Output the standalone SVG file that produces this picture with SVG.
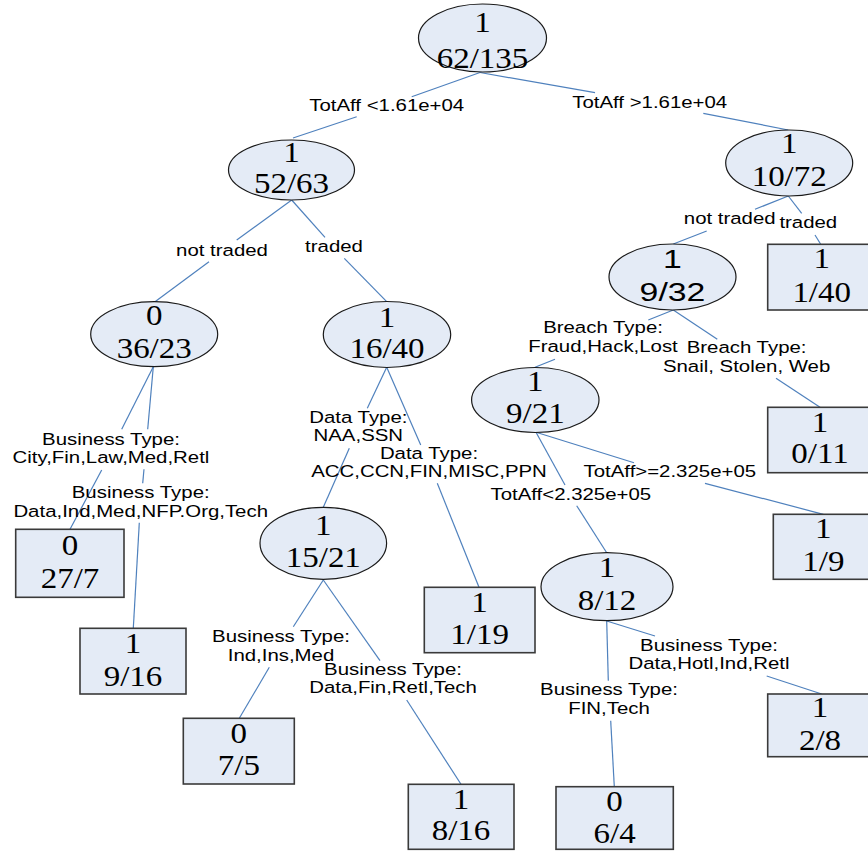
<svg xmlns="http://www.w3.org/2000/svg" width="868" height="853" viewBox="0 0 868 853">
<style>
.ell{fill:#e4ebf6;stroke:#1a1a1a;stroke-width:1.2}
.box{fill:#e4ebf6;stroke:#3a3a3a;stroke-width:1.6}
.num{font-family:"Liberation Serif","Times New Roman",serif;font-size:30px;text-anchor:middle;fill:#000}
.snum{font-family:"Liberation Sans",Arial,sans-serif;font-size:26px;text-anchor:middle;fill:#000}
.lbl{font-family:"Liberation Sans",Arial,sans-serif;font-size:17px;text-anchor:middle;fill:#000}
.edge line{stroke:#4f81bd;stroke-width:1.2}
</style>
<rect width="868" height="853" fill="#fff"/>
<g id="connectors" class="edge">
<line x1="480" y1="72.5" x2="411.7" y2="96.7"/><line x1="356.7" y1="116.7" x2="293" y2="138"/>
<line x1="480" y1="72.5" x2="595" y2="92.7"/><line x1="703.3" y1="113.3" x2="788.3" y2="130"/>
<line x1="291.7" y1="200" x2="236.7" y2="240"/><line x1="209" y1="261.7" x2="155" y2="301.7"/>
<line x1="291.7" y1="200" x2="325" y2="237.3"/><line x1="344.3" y1="258.3" x2="386.7" y2="301.7"/>
<line x1="788.3" y1="196" x2="755" y2="209.3"/><line x1="706.7" y1="231" x2="673.3" y2="244"/>
<line x1="788.3" y1="196" x2="801.7" y2="213.3"/><line x1="815" y1="235" x2="820.7" y2="244.3"/>
<line x1="153.3" y1="366.7" x2="121.7" y2="429.3"/><line x1="101.7" y1="470" x2="70" y2="529.3"/>
<line x1="153.3" y1="366.7" x2="147.7" y2="429.3"/><line x1="144" y1="469.3" x2="142.7" y2="483.3"/><line x1="139.3" y1="522.7" x2="133.3" y2="628.3"/>
<line x1="386.7" y1="367.3" x2="367.3" y2="408.3"/><line x1="349.3" y1="448.3" x2="323.3" y2="507.3"/>
<line x1="386.7" y1="367.3" x2="420.7" y2="445"/><line x1="437.3" y1="483.3" x2="479" y2="587.3"/>
<line x1="323.3" y1="580" x2="293.3" y2="626.7"/><line x1="269.3" y1="667.3" x2="239.3" y2="718.3"/>
<line x1="323.3" y1="580" x2="380" y2="660.7"/><line x1="406.7" y1="700" x2="461" y2="784.3"/>
<line x1="673.3" y1="310" x2="648.3" y2="320"/><line x1="555" y1="359.3" x2="535" y2="367.3"/>
<line x1="673.3" y1="310" x2="717.3" y2="339.3"/><line x1="776" y1="378.3" x2="820" y2="407.3"/>
<line x1="536" y1="432.3" x2="634" y2="462.7"/><line x1="705" y1="483.3" x2="823.3" y2="514.3"/>
<line x1="536" y1="432.3" x2="565" y2="485"/><line x1="576.7" y1="505.7" x2="606.7" y2="552.7"/>
<line x1="606.7" y1="621" x2="608.3" y2="680.7"/><line x1="610.7" y1="720.7" x2="614.3" y2="786.7"/>
<line x1="606.7" y1="621" x2="655" y2="636"/><line x1="766.7" y1="676" x2="821.7" y2="694"/>
</g>
<g id="edge-labels">
<text class="lbl" transform="translate(386.7,111) scale(1.2,1)">TotAff &lt;1.61e+04</text>
<text class="lbl" transform="translate(649.7,107.7) scale(1.2,1)">TotAff &gt;1.61e+04</text>
<text class="lbl" transform="translate(222,256) scale(1.2,1)">not traded</text>
<text class="lbl" transform="translate(334,251.7) scale(1.2,1)">traded</text>
<text class="lbl" transform="translate(729.7,224.3) scale(1.2,1)">not traded</text>
<text class="lbl" transform="translate(808.3,227.7) scale(1.2,1)">traded</text>
<text class="lbl" transform="translate(111,445) scale(1.2,1)"><tspan x="0">Business Type:</tspan><tspan x="0" dy="18.3">City,Fin,Law,Med,Retl</tspan></text>
<text class="lbl" transform="translate(140.7,498.3) scale(1.2,1)"><tspan x="0">Business Type:</tspan><tspan x="0" dy="18.4">Data,Ind,Med,NFP.Org,Tech</tspan></text>
<text class="lbl" transform="translate(358.3,422.7) scale(1.2,1)"><tspan x="0">Data Type:</tspan><tspan x="0" dy="18.3">NAA,SSN</tspan></text>
<text class="lbl" transform="translate(429,459) scale(1.2,1)"><tspan x="0">Data Type:</tspan><tspan x="0" dy="18">ACC,CCN,FIN,MISC,PPN</tspan></text>
<text class="lbl" transform="translate(603,333.3) scale(1.2,1)"><tspan x="0">Breach Type:</tspan><tspan x="0" dy="19">Fraud,Hack,Lost</tspan></text>
<text class="lbl" transform="translate(746.6,353.3) scale(1.2,1)"><tspan x="0">Breach Type:</tspan><tspan x="0" dy="19">Snail, Stolen, Web</tspan></text>
<text class="lbl" transform="translate(669.8,477.3) scale(1.2,1)">TotAff&gt;=2.325e+05</text>
<text class="lbl" transform="translate(570.8,500) scale(1.2,1)">TotAff&lt;2.325e+05</text>
<text class="lbl" transform="translate(281,641.7) scale(1.2,1)"><tspan x="0">Business Type:</tspan><tspan x="0" dy="19">Ind,Ins,Med</tspan></text>
<text class="lbl" transform="translate(393,675) scale(1.2,1)"><tspan x="0">Business Type:</tspan><tspan x="0" dy="18.3">Data,Fin,Retl,Tech</tspan></text>
<text class="lbl" transform="translate(709,650.7) scale(1.2,1)"><tspan x="0">Business Type:</tspan><tspan x="0" dy="18.6">Data,Hotl,Ind,Retl</tspan></text>
<text class="lbl" transform="translate(609,695) scale(1.2,1)"><tspan x="0">Business Type:</tspan><tspan x="0" dy="19">FIN,Tech</tspan></text>
</g>
<g id="n-root"><ellipse class="ell" cx="482.5" cy="38" rx="64" ry="34"/>
<text class="num" transform="translate(482.5,31.7) scale(1.1,1)">1</text><text class="num" transform="translate(482.5,68.3) scale(1.1,1)">62/135</text></g>
<g id="n-52-63"><ellipse class="ell" cx="291.5" cy="170" rx="63" ry="30"/>
<text class="num" transform="translate(291.5,161.7) scale(1.1,1)">1</text><text class="num" transform="translate(291.5,193) scale(1.1,1)">52/63</text></g>
<g id="n-10-72"><ellipse class="ell" cx="789.2" cy="163" rx="63.5" ry="33"/>
<text class="num" transform="translate(789.2,153.3) scale(1.1,1)">1</text><text class="num" transform="translate(789.2,185.7) scale(1.1,1)">10/72</text></g>
<g id="n-36-23"><ellipse class="ell" cx="154.2" cy="334.2" rx="63.5" ry="32.5"/>
<text class="num" transform="translate(154.2,325) scale(1.1,1)">0</text><text class="num" transform="translate(154.2,358.3) scale(1.1,1)">36/23</text></g>
<g id="n-16-40"><ellipse class="ell" cx="387" cy="334.5" rx="63.7" ry="33"/>
<text class="num" transform="translate(387,326.7) scale(1.1,1)">1</text><text class="num" transform="translate(387,358.3) scale(1.1,1)">16/40</text></g>
<g id="n-9-32"><ellipse class="ell" cx="672.5" cy="277" rx="63.5" ry="33"/>
<text class="snum" transform="translate(672.5,268.3) scale(1.3,1)">1</text><text class="snum" transform="translate(672.5,301) scale(1.3,1)">9/32</text></g>
<g id="n-1-40"><rect class="box" x="767.7" y="244.3" width="110" height="65.7"/>
<text class="num" transform="translate(821.7,268.3) scale(1.1,1)">1</text><text class="num" transform="translate(821.7,301.7) scale(1.1,1)">1/40</text></g>
<g id="n-9-21"><ellipse class="ell" cx="535.3" cy="400" rx="63.7" ry="32.5"/>
<text class="num" transform="translate(535.3,390.7) scale(1.1,1)">1</text><text class="num" transform="translate(535.3,423.3) scale(1.1,1)">9/21</text></g>
<g id="n-0-11"><rect class="box" x="767.7" y="407.3" width="110" height="65.4"/>
<text class="num" transform="translate(820,432.3) scale(1.1,1)">1</text><text class="num" transform="translate(820,463.3) scale(1.1,1)">0/11</text></g>
<g id="n-27-7"><rect class="box" x="15.7" y="529.3" width="108.3" height="68"/>
<text class="num" transform="translate(70,555) scale(1.1,1)">0</text><text class="num" transform="translate(70,588.3) scale(1.1,1)">27/7</text></g>
<g id="n-9-16"><rect class="box" x="80" y="628.3" width="106" height="65.7"/>
<text class="num" transform="translate(133,653.3) scale(1.1,1)">1</text><text class="num" transform="translate(133,685.7) scale(1.1,1)">9/16</text></g>
<g id="n-15-21"><ellipse class="ell" cx="323.3" cy="543.3" rx="63.3" ry="36"/>
<text class="num" transform="translate(323.3,535) scale(1.1,1)">1</text><text class="num" transform="translate(323.3,567.3) scale(1.1,1)">15/21</text></g>
<g id="n-1-19"><rect class="box" x="424.3" y="587.3" width="110.7" height="65.4"/>
<text class="num" transform="translate(479.6,611.7) scale(1.1,1)">1</text><text class="num" transform="translate(479.6,644) scale(1.1,1)">1/19</text></g>
<g id="n-1-9"><rect class="box" x="773.3" y="514.3" width="105" height="65"/>
<text class="num" transform="translate(823.3,538.3) scale(1.1,1)">1</text><text class="num" transform="translate(823.3,570.7) scale(1.1,1)">1/9</text></g>
<g id="n-8-12"><ellipse class="ell" cx="607" cy="586.7" rx="66" ry="34"/>
<text class="num" transform="translate(607,576.7) scale(1.1,1)">1</text><text class="num" transform="translate(607,610) scale(1.1,1)">8/12</text></g>
<g id="n-7-5"><rect class="box" x="183.3" y="718.3" width="111" height="65.7"/>
<text class="num" transform="translate(238.8,743.3) scale(1.1,1)">0</text><text class="num" transform="translate(238.8,775) scale(1.1,1)">7/5</text></g>
<g id="n-8-16"><rect class="box" x="408.3" y="784.3" width="105.7" height="65"/>
<text class="num" transform="translate(461,809) scale(1.1,1)">1</text><text class="num" transform="translate(461,840) scale(1.1,1)">8/16</text></g>
<g id="n-2-8"><rect class="box" x="767.7" y="694" width="110" height="62.7"/>
<text class="num" transform="translate(820,716.7) scale(1.1,1)">1</text><text class="num" transform="translate(820,750) scale(1.1,1)">2/8</text></g>
<g id="n-6-4"><rect class="box" x="556" y="786.7" width="117.3" height="62.6"/>
<text class="num" transform="translate(614.6,810.7) scale(1.1,1)">0</text><text class="num" transform="translate(614.6,842.7) scale(1.1,1)">6/4</text></g>
</svg>
